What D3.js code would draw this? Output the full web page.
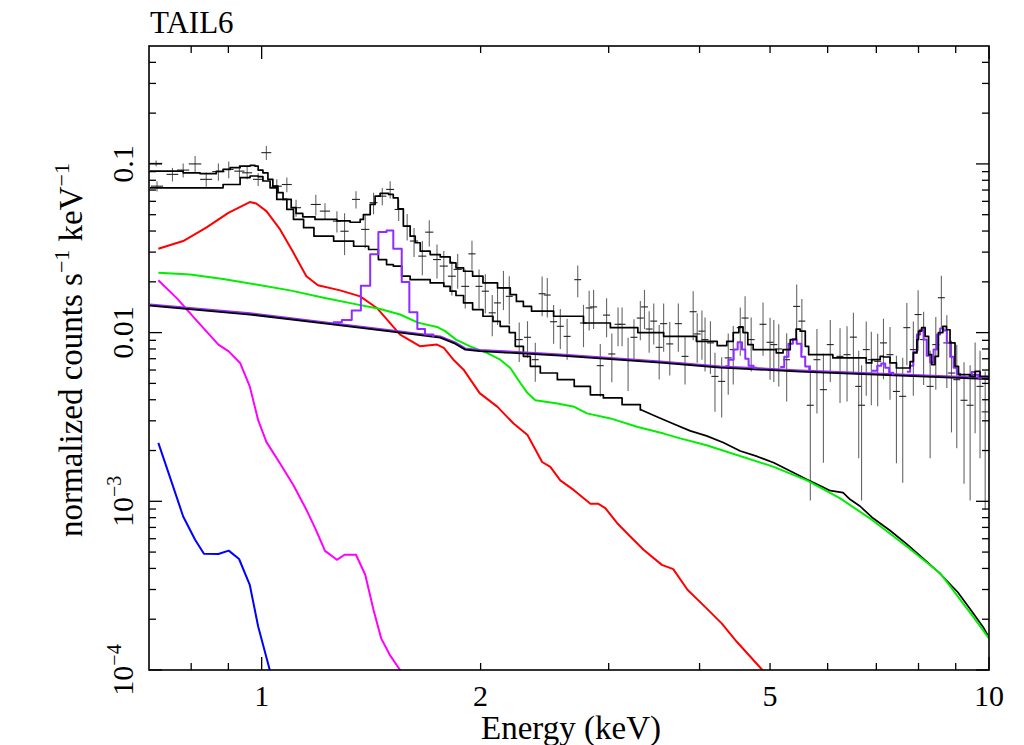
<!DOCTYPE html>
<html><head><meta charset="utf-8">
<script src="https://cdn.jsdelivr.net/npm/d3@7"></script>
<style>
body{margin:0;background:#fff}
svg{display:block}
text{font-family:"Liberation Serif","Times New Roman",serif;fill:#000}
</style>
</head><body>
<svg id="chart" width="1024" height="745"></svg>
<script>
// ---------------- data ----------------
const title = "TAIL6";
const xLabel = "Energy (keV)";
const xDomain = [0.7, 10];
const yDomain = [1e-4, 0.5];
const xTickLabels = [1, 2, 5, 10];
const xMajorTicks = [1, 10];
const xMinorTicks = [0.8, 0.9, 2, 3, 4, 5, 6, 7, 8, 9];
const yLabelValues = [0.1, 0.01, 1e-3, 1e-4];
const yLabelBase = ["0.1", "0.01", "10", "10"];
const yLabelSup = ["", "", "\u22123", "\u22124"];

// data points: [energy, half bin width, value, error]
const spectrumPoints = [
[0.716,0.014,0.1007,0.004],[0.718,0.014,0.0738,0.0052],[0.754,0.014,0.0867,0.008],[0.780,0.015,0.0919,0.0088],
[0.810,0.016,0.100,0.0115],[0.839,0.016,0.081,0.0078],[0.872,0.017,0.090,0.0104],[0.901,0.014,0.0928,0.0107],
[0.932,0.015,0.0906,0.0078],[0.955,0.015,0.0886,0.0076],[0.989,0.016,0.081,0.007],[1.015,0.016,0.1166,0.011],
[1.049,0.017,0.0738,0.0073],[1.083,0.017,0.0755,0.0075],[1.115,0.018,0.055,0.0063],[1.187,0.019,0.0575,0.0081],
[1.222,0.020,0.0525,0.006],[1.269,0.016,0.0458,0.0066],[1.300,0.017,0.0399,0.0111],[1.348,0.017,0.0616,0.0072],
[1.388,0.018,0.0409,0.0093],[1.425,0.018,0.0589,0.0086],[1.465,0.019,0.0644,0.0075],[1.502,0.019,0.0706,0.0082],
[1.543,0.020,0.0537,0.0078],[1.585,0.020,0.0428,0.0076],[1.620,0.021,0.0349,0.0068],[1.663,0.021,0.0284,0.0065],
[1.700,0.022,0.0394,0.007],[1.742,0.022,0.0271,0.0062],[1.780,0.023,0.0248,0.0057],[1.826,0.023,0.0216,0.005],
[1.860,0.024,0.0237,0.0055],[1.905,0.024,0.0188,0.0049],[1.946,0.022,0.0293,0.0057],[1.990,0.022,0.0188,0.0049],
[2.030,0.023,0.0176,0.0046],[2.075,0.023,0.0131,0.0036],[2.110,0.023,0.0150,0.0039],[2.150,0.024,0.0184,0.0048],
[2.190,0.024,0.0164,0.0052],[2.260,0.025,0.00909,0.0024],[2.320,0.026,0.00938,0.0023],[2.378,0.026,0.00691,0.0018],
[2.430,0.027,0.0170,0.0045],[2.470,0.027,0.0167,0.0044],[2.520,0.028,0.0116,0.003],[2.574,0.029,0.0109,0.0029],
[2.630,0.029,0.0095,0.0026],[2.720,0.030,0.0206,0.0044],[2.770,0.031,0.0114,0.0032],[2.820,0.031,0.0140,0.0037],
[2.860,0.032,0.0142,0.0037],[2.921,0.032,0.00637,0.0022],[2.980,0.033,0.0127,0.0033],[3.030,0.034,0.00747,0.0024],
[3.090,0.034,0.0112,0.0029],[3.130,0.035,0.0112,0.0029],[3.190,0.035,0.00691,0.0024],[3.250,0.036,0.00938,0.0026],
[3.316,0.037,0.0122,0.0032],[3.360,0.037,0.0142,0.0037],[3.410,0.038,0.0105,0.0029],[3.460,0.038,0.0117,0.0032],
[3.520,0.039,0.00818,0.0029],[3.570,0.040,0.0113,0.0036],[3.640,0.040,0.00857,0.003],[3.740,0.042,0.0113,0.0036],
[3.820,0.042,0.00723,0.0023],[3.920,0.044,0.0133,0.0043],[3.970,0.044,0.00982,0.0032],[4.030,0.045,0.0102,0.0033],
[4.070,0.045,0.00909,0.0032],[4.140,0.046,0.00869,0.003],[4.200,0.047,0.0055,0.0021],[4.290,0.048,0.00514,0.002],
[4.380,0.049,0.00708,0.0028],[4.450,0.049,0.00793,0.003],[4.550,0.050,0.0107,0.0034],[4.620,0.051,0.0122,0.0042],
[4.710,0.052,0.00909,0.0032],[4.890,0.054,0.0112,0.0039],[5.000,0.055,0.00876,0.0035],[5.060,0.056,0.00849,0.0034],
[5.140,0.057,0.0080,0.0032],[5.270,0.058,0.00691,0.003],[5.440,0.060,0.0143,0.005],[5.530,0.061,0.0117,0.0041],
[5.680,0.063,0.00371,0.0027],[5.800,0.064,0.00691,0.0036],[5.920,0.066,0.00459,0.0029],[6.050,0.067,0.00849,0.0034],
[6.240,0.069,0.00723,0.0034],[6.380,0.071,0.0074,0.0035],[6.510,0.072,0.0094,0.0037],[6.620,0.073,0.0048,0.003],
[6.680,0.074,0.00371,0.0027],[6.780,0.075,0.00793,0.0037],[6.890,0.076,0.00691,0.0032],[7.030,0.078,0.00676,0.0031],
[7.160,0.079,0.00869,0.0034],[7.310,0.081,0.0074,0.0034],[7.460,0.083,0.00448,0.0028],[7.610,0.084,0.00419,0.0029],
[7.710,0.085,0.0107,0.0043],[7.870,0.087,0.00793,0.0037],[7.990,0.089,0.0128,0.005],[8.130,0.090,0.00909,0.0042],
[8.300,0.092,0.0048,0.003],[8.450,0.094,0.00849,0.0039],[8.600,0.095,0.0161,0.0056],[8.750,0.097,0.00869,0.004],
[8.880,0.099,0.00576,0.0032],[9.030,0.100,0.00526,0.0032],[9.240,0.102,0.00397,0.0027],[9.420,0.104,0.00371,0.0027],
[9.570,0.106,0.00563,0.0031],[9.720,0.108,0.0048,0.003],[9.880,0.110,0.00339,0.0025]
];

// total model (stepped): [energy, value]
const totalModel = [
[0.702,0.0906],[0.780,0.0886],[0.823,0.0875],[0.866,0.0903],[0.885,0.0928],[0.905,0.095],[0.934,0.0971],
[0.964,0.098],[0.979,0.0971],[0.989,0.0919],[1.004,0.0886],[1.02,0.081],[1.036,0.0739],[1.053,0.0675],
[1.07,0.0616],[1.098,0.055],[1.115,0.0509],[1.139,0.0486],[1.184,0.0469],[1.269,0.046],[1.323,0.0451],
[1.366,0.0469],[1.38,0.0501],[1.41,0.0575],[1.432,0.0644],[1.455,0.0668],[1.495,0.0659],[1.517,0.0629],
[1.54,0.0542],[1.566,0.0428],[1.60,0.0373],[1.626,0.0341],[1.652,0.0304],[1.705,0.029],[1.76,0.0281],
[1.816,0.0259],[1.85,0.0242],[1.895,0.0231],[1.95,0.0216],[2.015,0.0197],[2.11,0.0184],[2.197,0.0168],
[2.24,0.0153],[2.29,0.0143],[2.35,0.0134],[2.52,0.0125],[2.77,0.0114],[3.016,0.0107],[3.29,0.0100],
[3.57,0.00951],[3.96,0.00888],[4.23,0.00837],[4.36,0.00888],[4.45,0.0100],[4.53,0.0108],[4.59,0.0100],
[4.66,0.00849],[4.74,0.00792],[5.10,0.00758],[5.21,0.00792],[5.33,0.00909],[5.43,0.0105],[5.50,0.0102],
[5.59,0.00829],[5.65,0.0074],[6.10,0.00708],[6.78,0.00661],[6.90,0.00691],[7.086,0.00723],[7.16,0.00717],
[7.31,0.00661],[7.46,0.00617],[7.71,0.00617],[7.79,0.00673],[7.87,0.00758],[7.96,0.00909],[8.0,0.0102],
[8.08,0.0107],[8.17,0.00951],[8.26,0.0074],[8.34,0.00646],[8.43,0.00723],[8.52,0.0100],[8.64,0.0109],
[8.74,0.0104],[8.84,0.00869],[8.98,0.00631],[9.08,0.00563],[9.42,0.0055],[9.57,0.00589],[9.72,0.0055],
[10.0,0.00526]
];

// background model total (stepped below 3.3 keV, then a fine staircase hugging the continuum)
const bkgModel = [
[0.702,0.0722],[0.823,0.0722],[0.885,0.0755],[0.934,0.083],[0.964,0.0848],[0.989,0.0841],[1.004,0.0792],
[1.027,0.0722],[1.049,0.0616],[1.083,0.0537],[1.106,0.0469],[1.142,0.0419],[1.18,0.0373],[1.256,0.0349],
[1.338,0.0325],[1.403,0.0311],[1.447,0.0271],[1.485,0.0253],[1.517,0.0248],[1.558,0.0216],[1.60,0.0206],
[1.705,0.0197],[1.78,0.0188],[1.816,0.0176],[1.85,0.0166],[1.895,0.0150],[1.95,0.0137],[2.015,0.0125],
[2.08,0.01167],[2.128,0.0109],[2.19,0.0100],[2.232,0.00829],[2.29,0.00723],[2.341,0.00631],[2.416,0.00576],
[2.55,0.00526],[2.69,0.0048],[2.831,0.00428],[2.95,0.0041],[3.13,0.00374],[3.316,0.00345],[3.50,0.00312],
[3.68,0.00284],[3.884,0.00258],[4.09,0.00241],[4.31,0.0022],[4.55,0.00196],[4.80,0.00182],[5.06,0.00167],
[5.33,0.00149],[5.62,0.00133],[5.86,0.00122],[6.05,0.00114],[6.30,0.00111],[6.445,0.00101],[6.65,0.000922],
[6.90,0.000794],[7.31,0.000662],[7.71,0.00055],[8.13,0.00045],[8.567,0.000367],[9.06,0.000285],
[9.42,0.000227],[9.82,0.000177],[10.0,0.000154]
];
const bkgStepLimit = 3.316;

// source power-law continuum
const powerlaw = [
[0.702,0.01446],[0.964,0.0128],[1.242,0.01123],[1.550,0.0100],[1.760,0.00934],[1.845,0.0086],
[1.905,0.00793],[1.993,0.00777],[2.574,0.0073],[3.532,0.00664],[4.271,0.0062],[5.501,0.00587],
[7.549,0.00556],[10.0,0.0053]
];

// source emission lines (purple, stepped): bin edges and values
const lineEdges = [
[1.253,1.289,1.330,1.369,1.410,1.447,1.485,1.517,1.558,1.596,1.637,1.677,1.722],
[4.339,4.385,4.456,4.513,4.575,4.623,4.672,4.746,4.80],
[5.164,5.23,5.30,5.375,5.44,5.52,5.589,5.66],
[6.90,7.02,7.11,7.20,7.29,7.385],
[7.71,7.79,7.87,7.96,8.04,8.13,8.21,8.30,8.39,8.48,8.567,8.66,8.75,8.843,8.94,9.03,9.127],
[9.36,9.47,9.571,9.67,9.78]
];
const lineValues = [
[0.01151,0.01186,0.01351,0.01893,0.02915,0.03948,0.0403,0.03142,0.01994,0.0132,0.01052,0.00973,0.0094],
[0.00631,0.00691,0.00793,0.00876,0.00793,0.00701,0.00637,0.0062,0.0062],
[0.00626,0.0072,0.0086,0.00915,0.0086,0.0072,0.00629,0.0059],
[0.00595,0.00637,0.00655,0.0062,0.00579,0.0056],
[0.00587,0.00637,0.00771,0.00973,0.0104,0.00909,0.0073,0.00664,0.00793,0.00973,0.01056,0.0103,0.00872,0.0072,0.0062,0.00571,0.0055],
[0.0055,0.00585,0.00563,0.0054,0.0054]
];

// background components
const bkgRed = [
[0.721,0.0314],[0.780,0.0349],[0.839,0.0419],[0.900,0.0513],[0.963,0.0594],[0.983,0.0583],[1.015,0.0525],
[1.060,0.0409],[1.106,0.0297],[1.152,0.0216],[1.195,0.0191],[1.282,0.0178],[1.366,0.0164],[1.44,0.0140],
[1.55,0.00973],[1.652,0.00829],[1.742,0.00849],[1.78,0.00811],[1.835,0.00691],[1.895,0.00603],[1.994,0.00438],
[2.11,0.00363],[2.22,0.00289],[2.32,0.00247],[2.43,0.00171],[2.494,0.0016],[2.574,0.00133],[2.69,0.00116],
[2.831,0.000968],[2.90,0.000968],[2.968,0.000912],[3.08,0.000744],[3.212,0.000619],[3.35,0.000516],
[3.55,0.00042],[3.68,0.000396],[3.85,0.000299],[4.09,0.000232],[4.29,0.000189],[4.50,0.000147],
[4.88,0.0001],[5.08,0.000076]
];
const bkgGreen = [
[0.721,0.0226],[0.797,0.0221],[0.885,0.0208],[0.983,0.0193],[1.094,0.0178],[1.217,0.0161],[1.351,0.0147],
[1.455,0.0138],[1.55,0.0128],[1.64,0.01146],[1.742,0.0108],[1.788,0.0102],[1.85,0.00909],[1.935,0.00829],
[2.04,0.00758],[2.128,0.00691],[2.197,0.00617],[2.268,0.00503],[2.32,0.00438],[2.378,0.00397],[2.55,0.0038],
[2.69,0.00363],[2.80,0.00332],[3.016,0.0031],[3.29,0.00276],[3.57,0.00252],[3.763,0.00236],[4.09,0.00215],
[5.06,0.0016],[5.62,0.00133],[6.243,0.00104],[6.90,0.000778],[7.71,0.00054],[8.567,0.000375],[9.51,0.000207],
[10.0,0.000154]
];
const bkgMagenta = [
[0.721,0.02044],[0.766,0.01585],[0.810,0.01206],[0.872,0.00849],[0.901,0.00774],[0.934,0.00661],[0.963,0.0048],
[0.989,0.003025],[1.015,0.00225],[1.060,0.001674],[1.106,0.001245],[1.152,0.000892],[1.187,0.000679],
[1.222,0.000508],[1.269,0.00045],[1.300,0.000482],[1.348,0.000482],[1.388,0.000367],[1.425,0.000227],
[1.46,0.000154],[1.50,0.000123],[1.55,0.0001],[1.60,0.000076]
];
const bkgBlue = [
[0.721,0.002218],[0.748,0.00139],[0.780,0.000813],[0.810,0.000592],[0.833,0.000489],[0.872,0.000487],
[0.901,0.00051],[0.931,0.000455],[0.963,0.00032],[0.989,0.000181],[1.026,0.0001],[1.043,0.000076]
];

// ---------------- drawing ----------------
const L = 149, R = 989, T = 46, B = 670;
const svg = d3.select("#chart");
const x = d3.scaleLog().domain(xDomain).range([L, R]);
const y = d3.scaleLog().domain(yDomain).range([B, T]);

svg.append("defs").append("clipPath").attr("id", "plotclip")
  .append("rect").attr("x", L).attr("y", T).attr("width", R - L).attr("height", B - T);
const plot = svg.append("g").attr("clip-path", "url(#plotclip)");

// data crosses
const pts = plot.append("g");
spectrumPoints.forEach(([e, de, v, err]) => {
  const lo = Math.max(v - err, 1e-6);
  pts.append("line").attr("x1", x(e)).attr("x2", x(e)).attr("y1", y(v + err)).attr("y2", y(lo))
    .attr("stroke", "#666").attr("stroke-width", 1.1);
  pts.append("line").attr("x1", x(e - de)).attr("x2", x(e + de)).attr("y1", y(v)).attr("y2", y(v))
    .attr("stroke", "#222").attr("stroke-width", 1.1);
});

const smooth = d3.line().x(d => x(d[0])).y(d => y(d[1]));
const stepped = d3.line().x(d => x(d[0])).y(d => y(d[1])).curve(d3.curveStepAfter);

function drawPath(data, gen, color, width, dy) {
  plot.append("path").datum(data).attr("d", gen).attr("fill", "none")
    .attr("transform", dy ? `translate(0,${dy})` : null)
    .attr("stroke", color).attr("stroke-width", width).attr("stroke-linejoin", "round");
}

drawPath(bkgBlue, smooth, "#0000ff", 2);
drawPath(bkgMagenta, smooth, "#ff00ff", 2);
drawPath(bkgRed, smooth, "#ff0000", 2);
drawPath(bkgModel.filter(d => d[0] <= bkgStepLimit), stepped, "#000", 1.7);
drawPath(bkgModel.filter(d => d[0] >= bkgStepLimit), smooth, "#000", 1.7, -1);
drawPath(bkgGreen, smooth, "#00ee00", 2);
drawPath(powerlaw, smooth, "#8f2cff", 2, -1.2);
drawPath(powerlaw, smooth, "#000", 1.8);
lineEdges.forEach((edges, i) => {
  const pairs = edges.map((e, j) => [e, lineValues[i][j]]);
  drawPath(pairs, stepped, "#8f2cff", 2);
});
drawPath(totalModel, stepped, "#000", 1.7);

// frame
svg.append("rect").attr("x", L).attr("y", T).attr("width", R - L).attr("height", B - T)
  .attr("fill", "none").attr("stroke", "#000").attr("stroke-width", 1.6);

const axes = svg.append("g").attr("stroke", "#000").attr("stroke-width", 1.3);
const majLen = 13, minLen = 7;
xMajorTicks.concat(xMinorTicks).forEach(t => {
  const len = xMajorTicks.includes(t) ? majLen : minLen;
  axes.append("line").attr("x1", x(t)).attr("x2", x(t)).attr("y1", B).attr("y2", B - len);
  axes.append("line").attr("x1", x(t)).attr("x2", x(t)).attr("y1", T).attr("y2", T + len);
});
const yMinor = [];
[1e-4, 1e-3, 1e-2, 1e-1].forEach(d => {
  for (let k = 2; k <= 9; k++) { const v = d * k; if (v < yDomain[1] - 1e-9) yMinor.push(v); }
});
yLabelValues.forEach(t => {
  axes.append("line").attr("x1", L).attr("x2", L + majLen).attr("y1", y(t)).attr("y2", y(t));
  axes.append("line").attr("x1", R).attr("x2", R - majLen).attr("y1", y(t)).attr("y2", y(t));
});
yMinor.forEach(t => {
  axes.append("line").attr("x1", L).attr("x2", L + minLen).attr("y1", y(t)).attr("y2", y(t));
  axes.append("line").attr("x1", R).attr("x2", R - minLen).attr("y1", y(t)).attr("y2", y(t));
});

// tick labels
xTickLabels.forEach(t => {
  svg.append("text").attr("x", x(t)).attr("y", 706).attr("text-anchor", "middle")
    .attr("font-size", 30).text(t);
});
yLabelValues.forEach((t, i) => {
  const tx = svg.append("text").attr("transform", `translate(133,${y(t)}) rotate(-90)`)
    .attr("text-anchor", "middle").attr("font-size", 30);
  tx.append("tspan").text(yLabelBase[i]);
  if (yLabelSup[i]) tx.append("tspan").attr("font-size", 20).attr("dy", -12).text(yLabelSup[i]);
});

// titles
svg.append("text").attr("x", 150).attr("y", 33).attr("font-size", 31).text(title);
svg.append("text").attr("x", 571).attr("y", 739).attr("text-anchor", "middle")
  .attr("font-size", 33).text(xLabel);
const yl = svg.append("text").attr("transform", `translate(82,350) rotate(-90)`)
  .attr("text-anchor", "middle").attr("font-size", 33);
yl.append("tspan").text("normalized counts s");
yl.append("tspan").attr("font-size", 22).attr("dy", -13).text("\u22121");
yl.append("tspan").attr("dy", 13).text(" keV");
yl.append("tspan").attr("font-size", 22).attr("dy", -13).text("\u22121");
</script>
</body></html>
